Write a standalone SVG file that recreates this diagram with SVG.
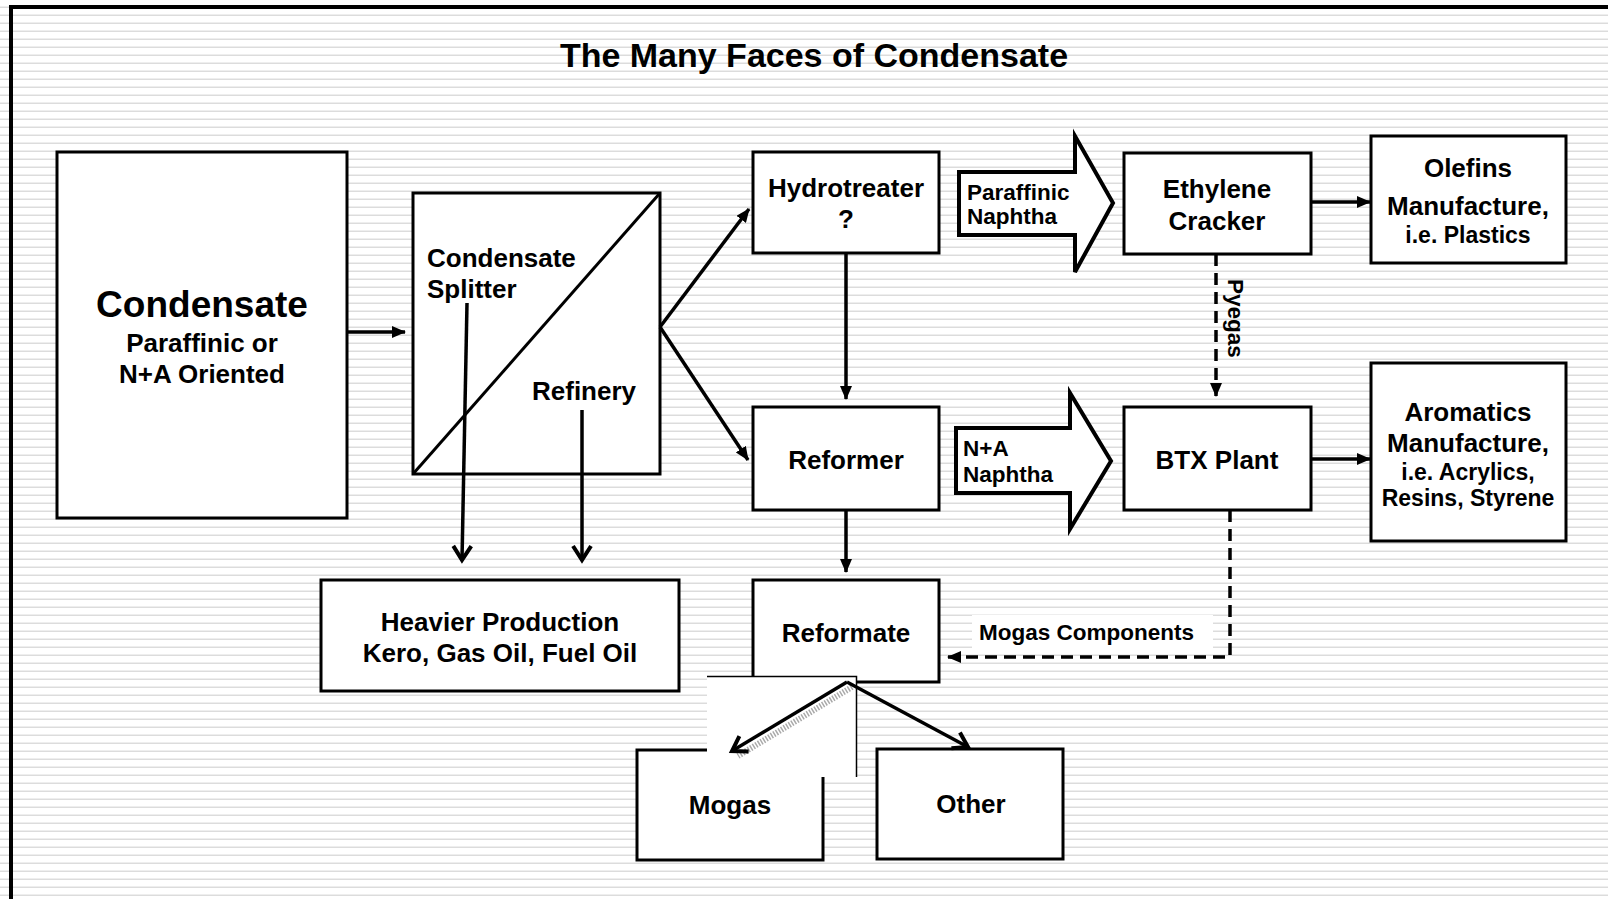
<svg xmlns="http://www.w3.org/2000/svg" width="1608" height="899" viewBox="0 0 1608 899">
<defs>
<pattern id="stripes" patternUnits="userSpaceOnUse" width="8" height="8">
<rect x="0" y="0" width="8" height="8" fill="#ffffff"/>
<rect x="0" y="6" width="8" height="1" fill="#eeeeee"/>
<rect x="0" y="7" width="8" height="1" fill="#dcdcdc"/>
</pattern>
<marker id="tri" viewBox="0 0 14 12" refX="13" refY="6" markerWidth="14" markerHeight="12" markerUnits="userSpaceOnUse" orient="auto">
<path d="M0,0 L14,6 L0,12 z" fill="#000"/>
</marker>
<marker id="vee" viewBox="0 0 20 24" refX="16" refY="12" markerWidth="20" markerHeight="24" markerUnits="userSpaceOnUse" orient="auto">
<path d="M2,3 L16,12 L2,21" fill="none" stroke="#000" stroke-width="4"/>
</marker>
</defs>
<style>
.box{fill:#fff;stroke:#000;stroke-width:3}
.t{font-family:"Liberation Sans",Arial,sans-serif;font-weight:bold;fill:#000}
.m{font-size:26px;text-anchor:middle}
.s{font-size:23px;text-anchor:middle}
.c{fill:none;stroke:#000;stroke-width:3.5}
.d{fill:none;stroke:#000;stroke-width:3.5;stroke-dasharray:12 7}
.big{fill:#fff;stroke:#000;stroke-width:4;stroke-linejoin:miter}
</style>
<rect x="0" y="0" width="1608" height="899" fill="url(#stripes)"/>
<path d="M11,899 V7 H1608" fill="none" stroke="#000" stroke-width="4"/>
<text class="t" x="814" y="67" font-size="34" text-anchor="middle">The Many Faces of Condensate</text>

<g id="condensate">
<rect class="box" x="57" y="152" width="290" height="366"/>
<text class="t" x="202" y="317" font-size="37" text-anchor="middle">Condensate</text>
<text class="t m" x="202" y="352">Paraffinic or</text>
<text class="t m" x="202" y="383">N+A Oriented</text>
</g>
<g id="splitter">
<rect class="box" x="413" y="193" width="247" height="281"/>
<line x1="413" y1="474" x2="660" y2="193" stroke="#000" stroke-width="3"/>
<text class="t" x="427" y="267" font-size="26">Condensate</text>
<text class="t" x="427" y="298" font-size="26">Splitter</text>
<text class="t" x="532" y="400" font-size="26">Refinery</text>
</g>
<g id="heavier">
<rect class="box" x="321" y="580" width="358" height="111"/>
<text class="t m" x="500" y="631">Heavier Production</text>
<text class="t m" x="500" y="662">Kero, Gas Oil, Fuel Oil</text>
</g>
<g id="hydrotreater">
<rect class="box" x="753" y="152" width="186" height="101"/>
<text class="t m" x="846" y="197">Hydrotreater</text>
<text class="t m" x="846" y="228">?</text>
</g>
<g id="reformer">
<rect class="box" x="753" y="407" width="186" height="103"/>
<text class="t m" x="846" y="469">Reformer</text>
</g>
<g id="reformate">
<rect class="box" x="753" y="580" width="186" height="102"/>
<text class="t m" x="846" y="642">Reformate</text>
</g>
<g id="mogas">
<rect class="box" x="637" y="750" width="186" height="110"/>
<text class="t m" x="730" y="814">Mogas</text>
</g>
<g id="other">
<rect class="box" x="877" y="749" width="186" height="110"/>
<text class="t m" x="971" y="813">Other</text>
</g>
<g id="paraffinic-naphtha">
<path class="big" d="M959,172 H1075 V136 L1113,203 L1075,272 V235 H959 Z"/>
<text class="t" x="967" y="200" font-size="22.5">Paraffinic</text>
<text class="t" x="967" y="224" font-size="22.5">Naphtha</text>
</g>
<g id="na-naphtha">
<path class="big" d="M956,428 H1070 V393 L1111,461 L1070,529 V493 H956 Z"/>
<text class="t" x="963" y="456" font-size="22.5">N+A</text>
<text class="t" x="963" y="482" font-size="22.5">Naphtha</text>
</g>
<g id="ethylene">
<rect class="box" x="1124" y="153" width="187" height="101"/>
<text class="t m" x="1217" y="198">Ethylene</text>
<text class="t m" x="1217" y="230">Cracker</text>
</g>
<g id="btx">
<rect class="box" x="1124" y="407" width="187" height="103"/>
<text class="t m" x="1217" y="469">BTX Plant</text>
</g>
<g id="olefins">
<rect class="box" x="1371" y="136" width="195" height="127"/>
<text class="t m" x="1468" y="177">Olefins</text>
<text class="t m" x="1468" y="215">Manufacture,</text>
<text class="t s" x="1468" y="243">i.e. Plastics</text>
</g>
<g id="aromatics">
<rect class="box" x="1371" y="363" width="195" height="178"/>
<text class="t m" x="1468" y="421">Aromatics</text>
<text class="t m" x="1468" y="452">Manufacture,</text>
<text class="t s" x="1468" y="480">i.e. Acrylics,</text>
<text class="t s" x="1468" y="506">Resins, Styrene</text>
</g>

<rect x="707" y="676" width="150" height="101" fill="#fff"/>
<path d="M707,676.5 H856.5 V777" fill="none" stroke="#000" stroke-width="1.5"/>

<g id="connectors">
<line class="c" x1="347" y1="332" x2="405" y2="332" marker-end="url(#tri)"/>
<line class="c" x1="660" y1="327" x2="749" y2="209" marker-end="url(#tri)"/>
<line class="c" x1="660" y1="327" x2="748" y2="460" marker-end="url(#tri)"/>
<line class="c" x1="467" y1="303" x2="462" y2="560" marker-end="url(#vee)"/>
<line class="c" x1="582" y1="410" x2="582" y2="560" marker-end="url(#vee)"/>
<line class="c" x1="846" y1="253" x2="846" y2="399" marker-end="url(#tri)"/>
<line class="c" x1="846" y1="510" x2="846" y2="572" marker-end="url(#tri)"/>
<line x1="852" y1="687" x2="738" y2="756" stroke="#aaaaaa" stroke-width="6" stroke-dasharray="1.5 1.5"/>
<line class="c" x1="847" y1="682" x2="732" y2="751" marker-end="url(#vee)"/>
<line class="c" x1="847" y1="682" x2="968" y2="747" marker-end="url(#vee)"/>
<line class="c" x1="1311" y1="202" x2="1370" y2="202" marker-end="url(#tri)"/>
<line class="c" x1="1311" y1="459" x2="1370" y2="459" marker-end="url(#tri)"/>
<line class="d" x1="1216" y1="254" x2="1216" y2="396" marker-end="url(#tri)"/>
<text class="t" font-size="22.5" transform="translate(1228,279) rotate(90)">Pyegas</text>
<path class="d" d="M1230,510 V657 H948" marker-end="url(#tri)"/>
<rect x="972" y="615" width="241" height="35" fill="#fff"/>
<text class="t" x="979" y="640" font-size="22.5">Mogas Components</text>
</g>
</svg>
